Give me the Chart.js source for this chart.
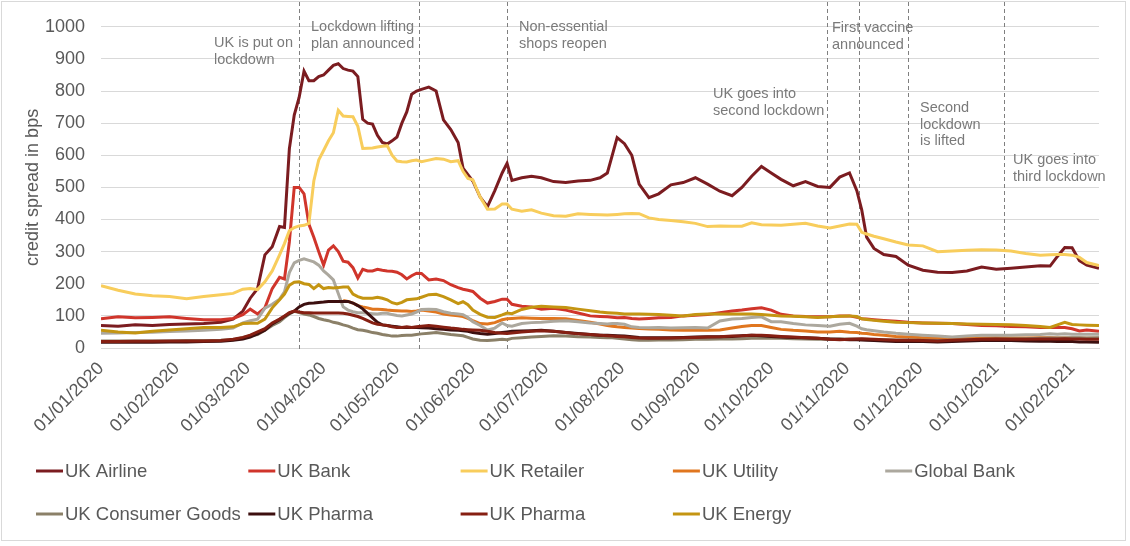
<!DOCTYPE html>
<html>
<head>
<meta charset="utf-8">
<script src="https://cdn.jsdelivr.net/npm/chart.js@4.4.1/dist/chart.umd.min.js"></script>
<style>
html,body{margin:0;padding:0;background:#fff;}
#wrap{position:relative;width:1130px;height:546px;}
</style>
</head>
<body>
<div id="wrap"><canvas id="c" width="1130" height="546"></canvas></div>
<script>
// ---------- DATA ----------
const dates = [
'2020-01-01','2020-01-08','2020-01-15','2020-01-22','2020-01-29','2020-02-05','2020-02-12','2020-02-19','2020-02-24','2020-02-28',
'2020-03-02','2020-03-05','2020-03-08','2020-03-11','2020-03-14','2020-03-16','2020-03-18','2020-03-20','2020-03-22','2020-03-24',
'2020-03-26','2020-03-28','2020-03-30','2020-04-01','2020-04-03','2020-04-05','2020-04-07','2020-04-09','2020-04-11','2020-04-13',
'2020-04-15','2020-04-17','2020-04-19','2020-04-21','2020-04-23','2020-04-25','2020-04-27','2020-04-29','2020-05-01','2020-05-03',
'2020-05-05','2020-05-07','2020-05-09','2020-05-11','2020-05-14','2020-05-17','2020-05-20','2020-05-23','2020-05-26','2020-05-28',
'2020-05-30','2020-06-01','2020-06-04','2020-06-07','2020-06-10','2020-06-13','2020-06-15','2020-06-17','2020-06-21','2020-06-25',
'2020-06-29','2020-07-04','2020-07-09','2020-07-14','2020-07-19','2020-07-23','2020-07-26','2020-07-28','2020-07-30','2020-08-02',
'2020-08-05','2020-08-08','2020-08-12','2020-08-16','2020-08-21','2020-08-26','2020-08-31','2020-09-05','2020-09-10','2020-09-15',
'2020-09-19','2020-09-23','2020-09-27','2020-10-01','2020-10-05','2020-10-10','2020-10-15','2020-10-20','2020-10-25','2020-10-29',
'2020-11-02','2020-11-05','2020-11-07','2020-11-09','2020-11-12','2020-11-16','2020-11-21','2020-11-26','2020-12-02','2020-12-08',
'2020-12-14','2020-12-20','2020-12-26','2021-01-01','2021-01-07','2021-01-13','2021-01-19','2021-01-23','2021-01-26','2021-01-29',
'2021-02-01','2021-02-04','2021-02-07','2021-02-12'
];

const ukAirline = [
70,68,72,70,73,75,76,80,90,115,
155,185,290,315,378,375,620,725,780,862,
832,832,845,850,865,880,885,870,865,862,
845,712,700,697,662,640,635,645,657,700,
735,790,800,805,812,800,710,680,640,560,
540,520,470,440,490,545,575,522,530,535,
530,518,515,520,522,530,545,600,655,636,
600,510,468,480,508,515,530,510,488,474,
500,535,565,545,525,505,518,503,500,532,
545,490,430,345,310,291,285,258,242,236,
235,240,252,245,248,252,256,255,285,313,
312,272,258,248
];

const ukBank = [
91,97,94,95,97,92,88,88,92,104,
121,106,125,185,220,215,330,500,500,480,
385,345,300,258,305,318,300,270,267,250,
218,245,240,240,245,242,240,239,236,228,
215,225,233,232,212,215,210,197,188,183,
180,176,155,140,145,152,152,136,130,128,
121,124,118,109,100,98,97,96,94,95,
92,90,92,94,95,100,102,104,110,115,
118,122,125,118,105,100,98,97,97,100,
100,96,91,90,88,86,83,80,78,77,
76,73,70,69,67,66,64,64,64,64,
60,53,56,52
];

const ukRetailer = [
194,180,168,163,160,153,160,166,170,183,
185,182,206,240,290,325,365,375,380,382,
388,520,585,615,645,670,740,722,721,720,
690,621,622,623,626,628,630,600,582,580,
579,583,585,580,585,590,588,580,583,550,
528,524,470,432,433,448,448,432,426,430,
420,412,410,418,416,415,414,415,416,418,
419,418,405,400,397,393,388,378,380,379,
379,390,384,383,382,385,388,380,374,380,
386,385,360,355,348,340,330,321,318,300,
302,304,306,305,302,294,289,290,291,291,
289,282,266,257
];

const ukUtility = [
null,null,null,null,null,null,null,null,null,null,
null,null,null,null,null,null,null,null,null,null,
null,null,null,null,null,null,null,148,145,140,
132,128,125,121,121,120,118,117,116,115,
115,114,115,118,115,112,106,103,100,98,
92,85,76,75,79,88,91,92,94,93,
92,92,91,86,80,75,70,68,66,64,
62,61,59,58,56,55,55,55,56,62,
67,70,70,64,58,55,53,50,50,52,
49,48,46,45,42,40,36,34,32,30,
30,30,31,32,31,31,32,32,31,31,
30,30,30,30
];

const globalBank = [
46,47,48,49,51,53,55,58,62,78,
85,90,124,136,152,175,235,265,273,278,
273,268,258,240,227,212,170,128,118,113,
110,110,108,107,106,108,108,104,101,100,
103,106,112,120,121,120,113,108,106,104,
95,82,70,56,62,78,70,68,76,79,
80,83,85,82,78,76,75,76,76,74,
66,64,63,64,62,63,64,62,84,90,
92,95,97,82,82,76,72,70,68,74,
77,68,60,57,54,50,46,43,40,37,
34,37,40,40,40,41,42,44,43,44,
43,43,43,43
];

const ukConsumerGoods = [
22,22,22,22,22,23,23,24,26,32,
38,42,55,70,82,95,106,114,110,106,
103,98,92,88,85,80,77,72,68,62,
57,55,52,48,46,42,40,37,37,39,
40,40,42,44,46,48,45,42,40,38,
33,28,24,23,25,27,26,30,32,34,
36,38,37,35,34,33,32,32,30,28,
26,24,24,25,25,26,27,27,28,28,
29,30,30,30,30,29,28,27,27,28,
28,28,27,27,26,26,25,25,24,23,
24,26,27,28,28,29,30,31,31,31,
32,32,31,32
];

const ukPharmaA = [
18,18,18,18,19,19,20,21,24,28,
34,44,55,75,88,98,108,115,128,136,
139,140,142,143,145,145,145,145,145,140,
132,122,108,94,80,72,70,68,66,64,
64,64,64,63,62,60,58,56,55,54,
52,48,45,43,45,48,50,52,53,54,
55,52,48,45,42,40,40,39,38,37,
35,33,32,32,32,33,34,35,35,36,
38,40,38,36,34,33,32,30,28,27,
26,26,25,24,23,22,20,20,20,19,
20,22,23,24,23,22,21,21,20,20,
20,19,19,18
];

const ukPharmaB = [
20,20,21,21,22,22,22,23,27,33,
40,50,60,78,90,100,110,115,112,110,
110,109,109,109,109,109,109,108,106,102,
98,92,85,78,74,72,70,66,64,64,
66,64,66,68,70,68,65,62,60,58,
57,56,55,52,48,46,45,47,50,52,
54,52,48,44,42,40,38,37,36,35,
33,31,30,30,31,32,33,34,35,37,
38,40,40,38,36,34,32,30,27,26,
27,28,29,28,27,26,24,24,23,22,
24,26,27,28,27,27,28,28,28,29,
28,28,27,27
];

const ukEnergy = [
55,50,47,52,56,60,64,64,66,76,
77,77,90,125,150,168,195,205,206,200,
198,185,197,185,188,187,188,190,190,168,
160,155,155,155,158,155,150,141,137,142,
150,152,153,158,166,167,160,150,138,144,
135,118,105,96,95,103,109,107,120,127,
130,128,126,121,116,112,110,109,108,106,
106,106,105,104,102,100,104,106,106,106,
106,106,104,102,100,99,97,95,97,99,
100,98,91,89,86,83,80,79,78,77,
76,75,74,73,72,70,67,64,72,80,
73,72,71,70
];

const seriesNames = ['UK Airline','UK Bank','UK Retailer','UK Utility','Global Bank','UK Consumer Goods','UK Pharma','UK Pharma','UK Energy'];
const seriesValues = [ukAirline, ukBank, ukRetailer, ukUtility, globalBank, ukConsumerGoods, ukPharmaA, ukPharmaB, ukEnergy];
const seriesColors = ['#7b1c20','#d0352b','#f8cd5c','#e0761f','#aca89e','#8b8068','#3c0f0f','#861f12','#c49512'];

const monthTicks = ['2020-01-01','2020-02-01','2020-03-01','2020-04-01','2020-05-01','2020-06-01','2020-07-01','2020-08-01','2020-09-01','2020-10-01','2020-11-01','2020-12-01','2021-01-01','2021-02-01'];
const tickLabels = ['01/01/2020','01/02/2020','01/03/2020','01/04/2020','01/05/2020','01/06/2020','01/07/2020','01/08/2020','01/09/2020','01/10/2020','01/11/2020','01/12/2020','01/01/2021','01/02/2021'];
const axisStart = '2020-01-01';
const axisEnd = '2021-02-12';

const eventDates = ['2020-03-22','2020-05-10','2020-06-15','2020-10-24','2020-11-06','2020-11-26','2021-01-04'];
const eventTexts = [
  ['UK is put on','lockdown'],
  ['Lockdown lifting','plan announced'],
  ['Non-essential','shops reopen'],
  ['UK goes into','second lockdown'],
  ['First vaccine','announced'],
  ['Second','lockdown','is lifted'],
  ['UK goes into','third lockdown']
];
// text anchor (left x, first-line centre y) in pixels
const eventTextPos = [[214,43],[311,27],[519,27],[713,94],[832,28],[920,108],[1013,160]];

// ---------- HELPERS ----------
function dayIndex(s){
  const [y,m,d] = s.split('-').map(Number);
  const [y0,m0,d0] = axisStart.split('-').map(Number);
  return Math.round((Date.UTC(y,m-1,d) - Date.UTC(y0,m0-1,d0)) / 86400000);
}
const FONT = '"Liberation Sans", Arial, sans-serif';
const dayX = dates.map(dayIndex);
const tickDays = monthTicks.map(dayIndex);

const datasets = seriesNames.map((name,i)=>({
  label: name,
  data: seriesValues[i].map((v,k)=>({x: dayX[k], y: v})),
  borderColor: seriesColors[i],
  backgroundColor: seriesColors[i],
  borderWidth: 3,
  pointRadius: 0,
  tension: 0,
  spanGaps: false,
  order: seriesNames.length - i
}));

const overlay = {
  id: 'overlay',
  beforeDatasetsDraw(chart){
    const {ctx, chartArea, scales:{x}} = chart;
    ctx.save();
    ctx.strokeStyle = '#7f7f7f';
    ctx.lineWidth = 1;
    ctx.setLineDash([4,3]);
    eventDates.forEach(d=>{
      const px = Math.round(x.getPixelForValue(dayIndex(d))) + 0.5;
      ctx.beginPath();
      ctx.moveTo(px, 2);
      ctx.lineTo(px, chartArea.bottom + 4);
      ctx.stroke();
    });
    ctx.restore();
  },
  afterDraw(chart){
    const {ctx} = chart;
    ctx.save();
    // annotations
    ctx.font = '14.5px ' + FONT;
    ctx.fillStyle = '#7a7a7a';
    ctx.textAlign = 'left';
    ctx.textBaseline = 'middle';
    eventTexts.forEach((lines,i)=>{
      const [tx,ty] = eventTextPos[i];
      lines.forEach((t,j)=> ctx.fillText(t, tx, ty + j*16.6));
    });
    // legend
    ctx.font = '18.5px ' + FONT;
    chart.data.datasets.forEach((ds,i)=>{
      const row = i < 5 ? 0 : 1;
      const col = i < 5 ? i : i - 5;
      const lx = 36 + col*212.3;
      const ly = row ? 514 : 471;
      ctx.strokeStyle = ds.borderColor;
      ctx.lineWidth = 3;
      ctx.setLineDash([]);
      ctx.beginPath();
      ctx.moveTo(lx, ly);
      ctx.lineTo(lx + 27, ly);
      ctx.stroke();
      ctx.fillStyle = '#595959';
      ctx.textAlign = 'left';
      ctx.textBaseline = 'middle';
      ctx.fillText(ds.label, lx + 29, ly + 1);
    });
    // outer border
    ctx.strokeStyle = '#d9d9d9';
    ctx.lineWidth = 1;
    ctx.strokeRect(1.5, 1.5, 1124, 539);
    ctx.restore();
  }
};

new Chart(document.getElementById('c'), {
  type: 'line',
  data: { datasets },
  options: {
    responsive: false,
    animation: false,
    events: [],
    layout: { padding: { left: 0, top: 18, right: 31, bottom: 110 } },
    plugins: { legend: { display: false }, tooltip: { enabled: false } },
    scales: {
      x: {
        type: 'linear',
        min: dayIndex(axisStart),
        max: dayIndex(axisEnd),
        afterBuildTicks: s => { s.ticks = tickDays.map(v=>({value:v})); },
        afterFit: s => { s.height = 88; },
        grid: { display: false, drawTicks: false },
        border: { display: true, color: '#d9d9d9', width: 1 },
        ticks: {
          autoSkip: false,
          minRotation: 45,
          maxRotation: 45,
          padding: 10,
          color: '#595959',
          font: { family: FONT, size: 18 },
          callback: v => { const k = tickDays.indexOf(v); return k >= 0 ? tickLabels[k] : ''; }
        }
      },
      y: {
        min: 0,
        max: 1000,
        afterFit: s => { s.width = 101; },
        grid: { color: '#d9d9d9', lineWidth: 1, drawTicks: false },
        border: { display: false },
        ticks: {
          stepSize: 100,
          padding: 16,
          color: '#595959',
          font: { family: FONT, size: 18 },
          callback: v => String(v)
        },
        title: {
          display: true,
          text: 'credit spread in bps',
          color: '#595959',
          font: { family: FONT, size: 18 },
          padding: { top: 22, bottom: 0 }
        }
      }
    }
  },
  plugins: [overlay]
});
</script>
</body>
</html>
